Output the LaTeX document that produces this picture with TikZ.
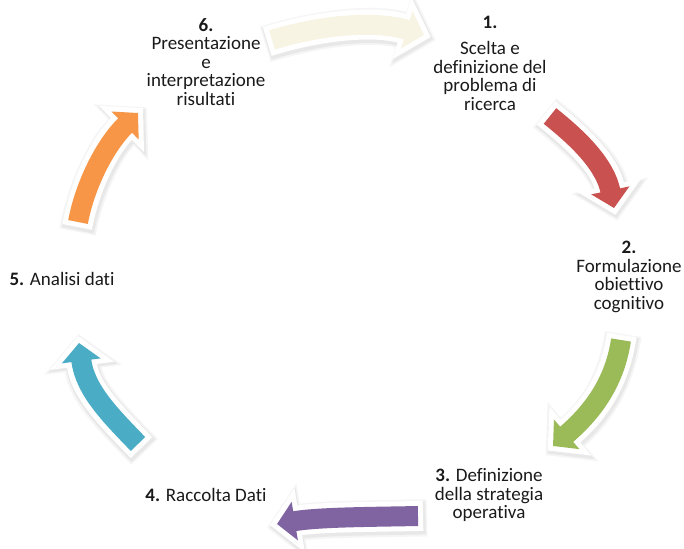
\documentclass[tikz,border=0pt]{standalone}
\usepackage{fontspec}
\setmainfont{Carlito}[Ligatures=NoCommon]
\usetikzlibrary{arrows.meta}

\definecolor{stepCream}{HTML}{F7F4E3}
\definecolor{stepRed}{HTML}{C9514F}
\definecolor{stepGreen}{HTML}{9BBB59}
\definecolor{stepPurple}{HTML}{8064A2}
\definecolor{stepBlue}{HTML}{4BACC6}
\definecolor{stepOrange}{HTML}{F79646}
\definecolor{textInk}{HTML}{1A1A1A}

\begin{document}
\begin{tikzpicture}[x=1pt,y=-1pt,
  lbl/.style={align=center, font=\fontsize{19}{18.5}\selectfont, text=textInk, inner sep=0pt},
  arrowglow/.style={draw=black!4, line width=37pt,
    -{Triangle[width=76pt,length=36pt]}, shorten >=-11pt, shorten <=-8pt,
    transform canvas={shift={(1pt,-2pt)}}},
  arrowshade/.style={draw=black!9, line width=33pt,
    -{Triangle[width=68pt,length=32pt]}, shorten >=-8.5pt, shorten <=-6.5pt,
    transform canvas={shift={(1pt,-2pt)}}},
  arrowhalo/.style={draw=white, line width=30pt,
    -{Triangle[width=63pt,length=30pt]}, shorten >=-7pt, shorten <=-5pt},
  arrowbody/.style={draw=#1, line width=20pt,
    -{Triangle[width=38pt,length=18pt]}},
]
\useasboundingbox (0,0) rectangle (684,548);
\fill[white] (0,0) rectangle (684,548);

% step labels
\node[lbl] (n1) at (490,63) {\textbf{1.}\\[8pt]Scelta e\\definizione del\\problema di\\ricerca};
\node[lbl] (n2) at (629,277) {\textbf{2.}\\Formulazione\\obiettivo\\cognitivo};
\node[lbl] (n3) at (489,495) {\textbf{3.} Definizione\\della strategia\\operativa};
\node[lbl] (n4) at (206,495) {\textbf{4.} Raccolta Dati};
\node[lbl] (n5) at (62,279) {\textbf{5.} Analisi dati};
\node[lbl] (n6) at (206,62) {\textbf{6.}\\Presentazione\\e\\interpretazione\\risultati};

% end points of the cycle arrows
\coordinate (a1s) at (272,40);  \coordinate (a1e) at (424,35);
\coordinate (a2s) at (550,116); \coordinate (a2e) at (614,208);
\coordinate (a3s) at (621,340); \coordinate (a3e) at (553,446);
\coordinate (a4s) at (418,516); \coordinate (a4e) at (277,524);
\coordinate (a5s) at (138,444); \coordinate (a5e) at (79,343);
\coordinate (a6s) at (78,222);  \coordinate (a6e) at (138,113);

% soft shadows, two layers
\foreach \layer in {arrowglow,arrowshade} {
  \draw[\layer] (a1s) .. controls (320,25) and (375,20) .. (a1e);
  \draw[\layer] (a2s) .. controls (580,140) and (605,165) .. (a2e);
  \draw[\layer] (a3s) .. controls (615,380) and (595,410) .. (a3e);
  \draw[\layer] (a4s) .. controls (370,517) and (320,517) .. (a4e);
  \draw[\layer] (a5s) .. controls (110,415) and (85,390) .. (a5e);
  \draw[\layer] (a6s) .. controls (85,185) and (105,145) .. (a6e);
}

% white borders
\draw[arrowhalo] (a1s) .. controls (320,25) and (375,20) .. (a1e);
\draw[arrowhalo] (a2s) .. controls (580,140) and (605,165) .. (a2e);
\draw[arrowhalo] (a3s) .. controls (615,380) and (595,410) .. (a3e);
\draw[arrowhalo] (a4s) .. controls (370,517) and (320,517) .. (a4e);
\draw[arrowhalo] (a5s) .. controls (110,415) and (85,390) .. (a5e);
\draw[arrowhalo] (a6s) .. controls (85,185) and (105,145) .. (a6e);

% coloured arrows
\draw[arrowbody=stepCream]  (a1s) .. controls (320,25) and (375,20) .. (a1e);
\draw[arrowbody=stepRed]    (a2s) .. controls (580,140) and (605,165) .. (a2e);
\draw[arrowbody=stepGreen]  (a3s) .. controls (615,380) and (595,410) .. (a3e);
\draw[arrowbody=stepPurple] (a4s) .. controls (370,517) and (320,517) .. (a4e);
\draw[arrowbody=stepBlue]   (a5s) .. controls (110,415) and (85,390) .. (a5e);
\draw[arrowbody=stepOrange] (a6s) .. controls (85,185) and (105,145) .. (a6e);
\end{tikzpicture}
\end{document}
